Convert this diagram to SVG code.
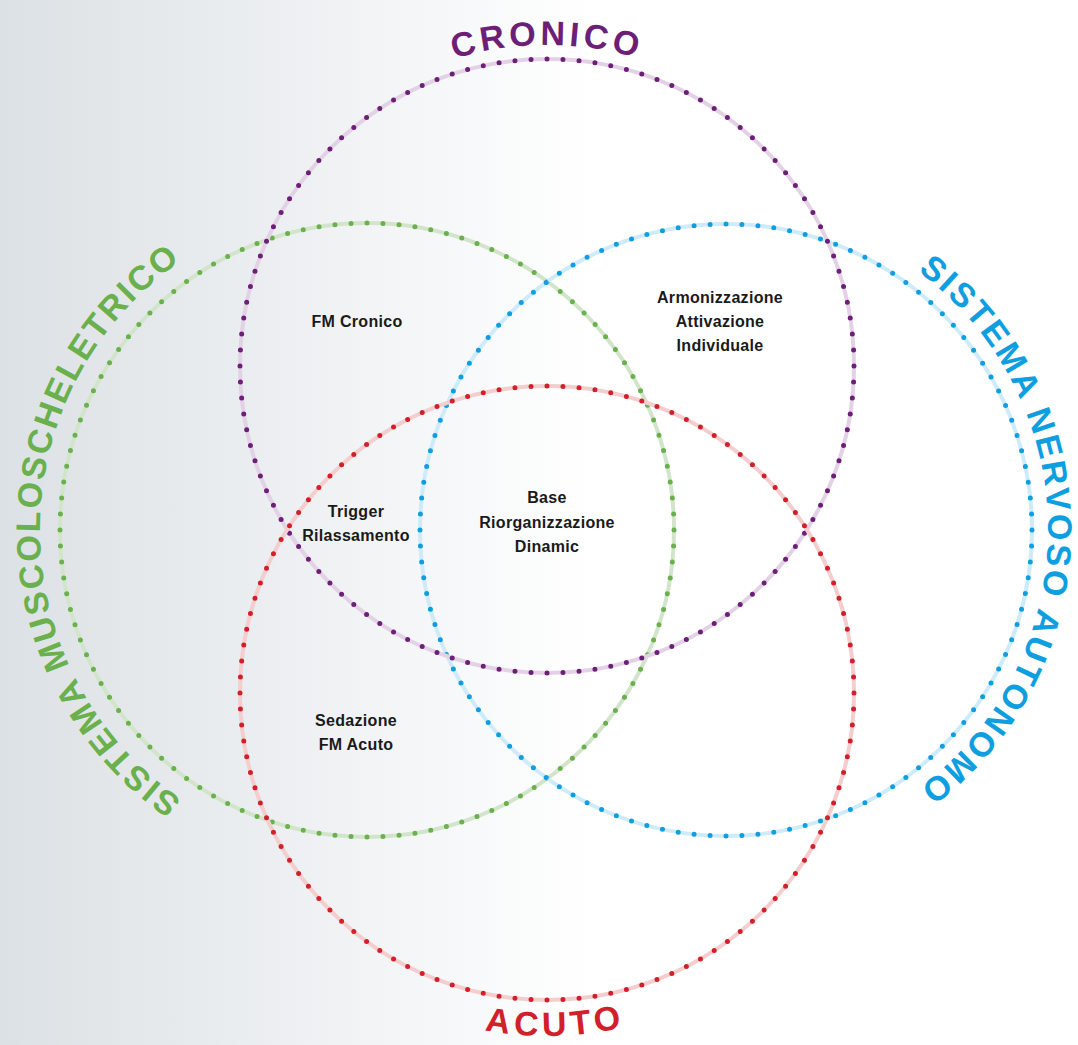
<svg xmlns="http://www.w3.org/2000/svg" width="1078" height="1045" viewBox="0 0 1078 1045">
<defs>
<linearGradient id="bg" x1="0" y1="0" x2="1078" y2="0" gradientUnits="userSpaceOnUse">
<stop offset="0" stop-color="#dce1e5"/>
<stop offset="0.55" stop-color="#ffffff"/>
<stop offset="1" stop-color="#ffffff"/>
</linearGradient>
<path id="pCron" d="M 226,366 A 321 321 0 0 1 868,366"/>
<path id="pGreen" d="M 367,857 A 327 327 0 0 1 367,203"/>
<path id="pBlue" d="M 726,208 A 322 322 0 0 1 726,852"/>
<path id="pAcuto" d="M 204,693 A 343 343 0 0 0 890,693"/>
</defs>
<style>
.track{fill:none;stroke-width:4}
.dots{fill:none;stroke-width:5;stroke-linecap:round;stroke-dasharray:0 1}
.title{font-family:"Liberation Sans",Arial,sans-serif;font-weight:bold;font-size:34px}
.lbl{font-family:"Liberation Sans",Arial,sans-serif;font-weight:bold;font-size:16px;fill:#1a1a1a;text-anchor:middle;letter-spacing:0.3px}
</style>
<rect width="1078" height="1045" fill="url(#bg)"/>
<g id="connectors">
<g id="circle-green">
<circle class="track" cx="367" cy="530" r="307" stroke="#d2e5cb"/>
<circle class="dots" cx="367" cy="530" r="307" stroke="#6ab04c" pathLength="120"/>
</g>
<g id="circle-blue">
<circle class="track" cx="726" cy="530" r="306" stroke="#cdebf8"/>
<circle class="dots" cx="726" cy="530" r="306" stroke="#0f9fe0" pathLength="120"/>
</g>
<g id="circle-purple">
<circle class="track" cx="547" cy="366" r="307" stroke="#e3d2e6"/>
<circle class="dots" cx="547" cy="366" r="307" stroke="#6d1f78" pathLength="120"/>
</g>
<g id="circle-red">
<circle class="track" cx="547" cy="693" r="307" stroke="#f4cdce"/>
<circle class="dots" cx="547" cy="693" r="307" stroke="#d2202a" pathLength="120"/>
</g>
</g>
<g id="title-cronico"><text class="title" fill="#6d1f78" letter-spacing="4"><textPath href="#pCron" startOffset="50%" text-anchor="middle">CRONICO</textPath></text></g>
<g id="title-musc"><text class="title" fill="#6ab04c" letter-spacing="2.2"><textPath href="#pGreen" startOffset="50%" text-anchor="middle">SISTEMA MUSCOLOSCHELETRICO</textPath></text></g>
<g id="title-nervoso"><text class="title" fill="#0f9fe0" letter-spacing="2.6"><textPath href="#pBlue" startOffset="50%" text-anchor="middle">SISTEMA NERVOSO AUTONOMO</textPath></text></g>
<g id="title-acuto"><text class="title" fill="#d2202a" letter-spacing="4.5"><textPath href="#pAcuto" startOffset="50.8%" text-anchor="middle">ACUTO</textPath></text></g>
<g id="node-fm-cronico"><text class="lbl" x="357" y="327">FM Cronico</text></g>
<g id="node-armonizzazione"><text class="lbl" x="720" y="303">Armonizzazione</text><text class="lbl" x="720" y="327">Attivazione</text><text class="lbl" x="720" y="351">Individuale</text></g>
<g id="node-trigger"><text class="lbl" x="356" y="517">Trigger</text><text class="lbl" x="356" y="541">Rilassamento</text></g>
<g id="node-base"><text class="lbl" x="547" y="503">Base</text><text class="lbl" x="547" y="528">Riorganizzazione</text><text class="lbl" x="547" y="552">Dinamic</text></g>
<g id="node-sedazione"><text class="lbl" x="356" y="726">Sedazione</text><text class="lbl" x="356" y="750">FM Acuto</text></g>
</svg>
